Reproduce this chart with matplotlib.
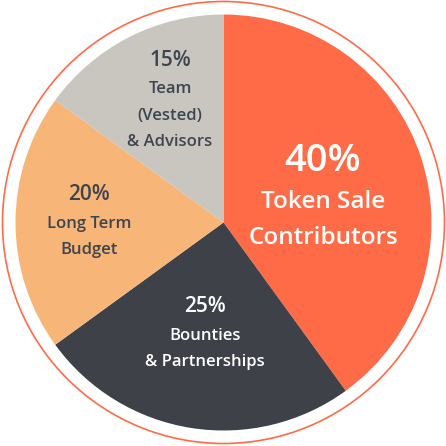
import matplotlib.pyplot as plt
from matplotlib.patches import Circle

shares = [40, 25, 20, 15]
pcts = ["40%", "25%", "20%", "15%"]
names = ["Token Sale\nContributors", "Bounties\n& Partnerships", "Long Term\nBudget", "Team\n(Vested)\n& Advisors"]
colors = ["#FF6B47", "#3F4149", "#F7B577", "#C9C6BF"]
text_colors = ["white", "white", "#3D4550", "#3D4550"]

plt.rcParams['font.family'] = ['Open Sans', 'DejaVu Sans']

W = 446
fig = plt.figure(figsize=(4.46, 4.46), dpi=100)
ax = fig.add_axes([0, 0, 1, 1])

cx, cy, r = 223.5, 223.5, 208
ax.pie(shares, colors=colors, startangle=90, counterclock=False,
       center=(cx, cy), radius=r, frame=True,
       wedgeprops=dict(linewidth=0))
ax.set_xlim(0, W)
ax.set_ylim(0, W)
ax.set_aspect('equal')
ax.axis('off')
ax.add_patch(Circle((cx, cy), 221, fill=False, edgecolor="#FF6B47", lw=1.2))

# label positions in pixel coords (x, y from top): pct line, then name lines
layout = [
    (323, 161, 27.5, 220, 17.5, 34),
    (205, 307, 15, 349, 12, 25),
    (89, 195, 15, 237, 12, 25),
    (170, 60, 15, 115.5, 12, 26),
]
for (x, y, fs1, y2, fs2, gap), p, n, tc in zip(layout, pcts, names, text_colors):
    ax.text(x, W - y, p, ha='center', va='center', fontsize=fs1,
            fontweight='semibold', color=tc)
    ax.text(x, W - y2, n, ha='center', va='center', fontsize=fs2,
            fontweight='semibold', color=tc,
            linespacing=1.2 * gap / (fs2 / 0.72))

fig.savefig("out.png", dpi=100, facecolor="white")
